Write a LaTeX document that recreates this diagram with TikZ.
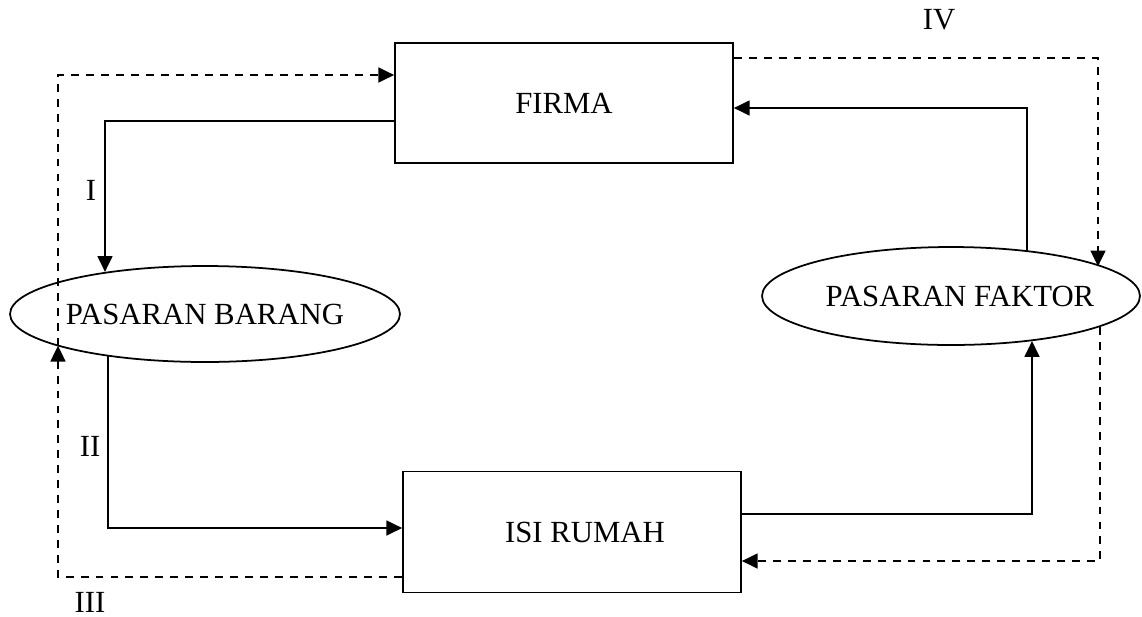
\documentclass[tikz,border=0pt]{standalone}
\usepackage{fontspec}
\setmainfont{Liberation Serif}
\usetikzlibrary{shapes.geometric,arrows.meta}
\begin{document}
\begin{tikzpicture}[x=0.02cm,y=-0.02cm,
  every node/.style={font=\fontsize{17.5}{21}\selectfont},
  box/.style={draw,line width=1pt,inner sep=0pt,minimum width=6.76cm,minimum height=2.4cm},
  market/.style={draw,ellipse,line width=1pt,inner sep=0pt},
  flow/.style={line width=1pt,-{Triangle[length=9pt,width=8.5pt]}},
  money/.style={flow,dash pattern=on 4.5pt off 4pt},
  tag/.style={inner sep=0pt}]
\useasboundingbox (0,0) rectangle (1142,616);

% main nodes
\node[box] (firma) at (564,103) {FIRMA};
\node[box,minimum height=2.42cm] (isi) at (572,532) {\hspace*{0.52cm}ISI RUMAH};
\node[market,minimum width=7.8cm,minimum height=1.92cm] (pb) at (205,314) {\makebox[0pt]{PASARAN BARANG}};
\node[market,minimum width=7.56cm,minimum height=1.96cm] (pf) at (951,296) {\makebox[0pt]{\hspace*{0.36cm}PASARAN FAKTOR}};

% labels
\node[tag] (l1) at (91,190) {I};
\node[tag] (l2) at (90,446) {II};
\node[tag] (l3) at (90,602) {III};
\node[tag] (l4) at (939,20) {IV};

% corner points
\coordinate (k1) at (105,121);
\coordinate (k2) at (108,528);
\coordinate (k3) at (58,577);
\coordinate (k4) at (58,75);
\coordinate (k5) at (1032,514);
\coordinate (k6) at (1027,108);
\coordinate (k7) at (1098,58);
\coordinate (k8) at (1100,561);

% solid flows
\draw[flow] (firma.west |- k1) -- (k1) -- (k1 |- pb.157.6);
\draw[flow] (k2 |- pb.203.2) -- (k2) -- (k2 -| isi.west);
\draw[flow] (isi.east |- k5) -- (k5) -- (k5 |- pf.331.3);
\draw[flow] (k6 |- pf.30.6) -- (k6) -- (k6 -| firma.east);

% dashed flows
\draw[money] (isi.west |- k3) -- (k3) -- (k3 |- pb.192.1);
\draw[money] (k4 |- pb.192.1) -- (k4) -- (k4 -| firma.west);
\draw[money] (firma.east |- k7) -- (k7) -- (k7 |- pf.11.8);
\draw[money] (k8 |- pf.348.6) -- (k8) -- (k8 -| isi.east);
\end{tikzpicture}
\end{document}
